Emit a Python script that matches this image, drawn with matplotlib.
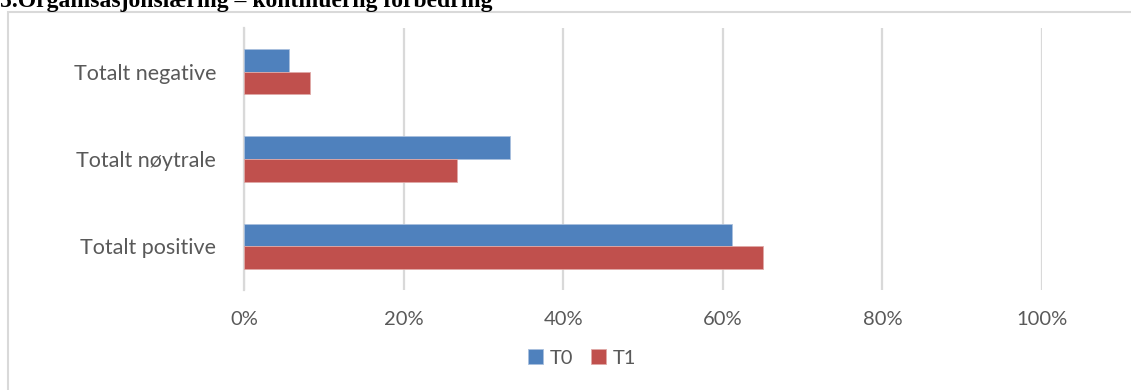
import matplotlib
matplotlib.use("Agg")
import matplotlib.pyplot as plt
from matplotlib.patches import Rectangle
from matplotlib.ticker import FuncFormatter
import numpy as np

categories = ["Totalt positive", "Totalt nøytrale", "Totalt negative"]
t0_values = [61.1, 33.3, 5.6]
t1_values = [65.0, 26.7, 8.3]
series_names = ["T0", "T1"]
x_ticks = [0, 20, 40, 60, 80, 100]
title = "5.Organisasjonslæring – kontinuerlig forbedring"

W, H = 1131, 390
fig = plt.figure(figsize=(W / 100, H / 100), dpi=100)
fig.patch.set_facecolor("white")

# Chart frame
frame = Rectangle((8 / W, -0.1), 1.2, (H - 12) / H + 0.1, transform=fig.transFigure,
                  fill=False, edgecolor="#d9d9d9", linewidth=1.5, zorder=0)
fig.add_artist(frame)

fig.text(0, (H - 7) / H, title, family="Liberation Serif", weight="bold",
         fontsize=17, va="baseline", ha="left", color="black")

ax = fig.add_axes([244 / W, (H - 290) / H, (1042 - 244) / W, (290 - 28) / H])

y = np.arange(len(categories))
h = 0.26
ax.barh(y + h / 2, t0_values, height=h, color="#4F81BD", edgecolor="#a9c0de",
        linewidth=0.6, label=series_names[0], zorder=3)
ax.barh(y - h / 2, t1_values, height=h, color="#C0504D", edgecolor="#e0a9a7",
        linewidth=0.6, label=series_names[1], zorder=3)

ax.set_xlim(0, 100)
ax.set_ylim(-0.5, len(categories) - 0.5)
ax.set_xticks(x_ticks)
ax.xaxis.set_major_formatter(FuncFormatter(lambda v, p: f"{v:.0f}%"))
ax.set_yticks(y)
ax.set_yticklabels(categories)
ax.grid(axis="x", color="#d9d9d9", linewidth=1.6, zorder=0)
ax.set_axisbelow(True)
for s in ["top", "right", "bottom"]:
    ax.spines[s].set_visible(False)
ax.spines["left"].set_color("#d9d9d9")
ax.spines["left"].set_linewidth(1.6)
ax.tick_params(axis="both", length=0, labelcolor="#595959")
ax.tick_params(axis="x", pad=15, labelsize=14.5)
ax.tick_params(axis="y", pad=20, labelsize=15.5)
for lab in ax.get_xticklabels() + ax.get_yticklabels():
    lab.set_family("Lato")

leg = fig.legend(loc="center", bbox_to_anchor=(582 / W, (H - 358) / H), ncol=2,
                 frameon=False, handlelength=0.75, handleheight=0.75,
                 handletextpad=0.3, columnspacing=0.9,
                 prop={"family": "Lato", "size": 14.5})
for t in leg.get_texts():
    t.set_color("#595959")

fig.savefig("out.png", dpi=100)
